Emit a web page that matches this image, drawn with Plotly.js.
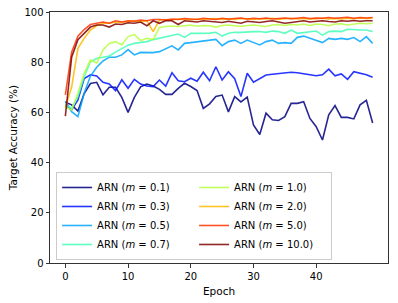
<!DOCTYPE html>
<html>
<head>
<meta charset="utf-8">
<script src="https://cdn.plot.ly/plotly-3.0.1.min.js"></script>
<style>
  html, body { margin: 0; padding: 0; background: #fff; }
  #chart { width: 398px; height: 303px; }
</style>
</head>
<body>
<div id="chart"></div>
<script>
// Epochs 0..49
var epochs = [0,1,2,3,4,5,6,7,8,9,10,11,12,13,14,15,16,17,18,19,20,21,22,23,24,25,26,27,28,29,30,31,32,33,34,35,36,37,38,39,40,41,42,43,44,45,46,47,48,49];

var mLabels = ['0.1', '0.3', '0.5', '0.7', '1.0', '2.0', '5.0', '10.0'];

var accM01 = [64, 63, 60.5, 67.5, 71.5, 72, 67, 70, 70, 66, 60, 66, 70.2, 71.3, 70.5, 69.2, 67.2, 67.2, 69.6, 71.6, 70.3, 68.7, 61.6, 63.4, 66.3, 66.9, 60.2, 66.3, 64.2, 66.1, 55, 51.2, 59.7, 57.1, 56.8, 58.3, 63.6, 63.6, 64.3, 57.6, 54.3, 49, 59, 62.7, 58, 58, 57.4, 63, 64.8, 55.8];
var accM03 = [63, 61, 65, 73.5, 75, 74.5, 72, 71.3, 68.7, 73, 69.6, 73.2, 71.3, 70.5, 70.3, 72.9, 70.5, 75.8, 72.6, 72.2, 73.6, 72.4, 76, 72.6, 78.2, 72.9, 76.2, 73.4, 66.3, 75.6, 72, 73.6, 74.9, 75.2, 75.5, 75.7, 76, 75.8, 75.3, 75, 74.6, 75, 77.2, 74.6, 75.3, 73.2, 76.2, 75.6, 75, 74];
var accM05 = [64.5, 60.3, 58.3, 67.6, 74.5, 78, 80.5, 82, 82, 82.9, 85, 82.9, 83.9, 83.7, 83.8, 84.2, 85.5, 86.5, 84.9, 87.5, 87.8, 88.2, 88.4, 88.8, 89.1, 86.6, 88.2, 88.8, 87.5, 88.8, 87.8, 86.9, 88.2, 88.8, 87.5, 87.8, 87.5, 89.9, 90.4, 89.5, 88.8, 87.8, 89.5, 89.1, 89.5, 89.1, 89.8, 88.2, 90.2, 87.5];
var accM07 = [63, 61.6, 66.3, 74.2, 80.2, 81.5, 82, 82.5, 84, 85.5, 86.8, 87.5, 87.8, 88.2, 89, 89.5, 90.2, 90.8, 91.2, 89.9, 91.5, 91.5, 91.5, 91.6, 91.9, 90.4, 91.5, 91.9, 91.9, 92.2, 92.2, 92.2, 91.9, 92.4, 92.2, 91.5, 92.8, 91.5, 91.8, 92.2, 92.4, 90.8, 92.2, 92.4, 92.2, 93.1, 92.8, 92.8, 92.8, 92.2];
var accM10 = [62, 61, 67.6, 75.6, 80.9, 79.6, 84.9, 87.5, 88.2, 86.9, 90.2, 91, 88.6, 89.5, 89, 93.8, 94.2, 94.4, 94.2, 94.5, 94.8, 94.3, 94.6, 94.5, 94, 94.6, 94.8, 94.5, 94.2, 94.6, 94.8, 94.5, 94.2, 94.8, 95, 94.6, 95, 94.8, 95.2, 94.6, 95.2, 95, 94.5, 95.2, 95.3, 94.8, 95.2, 95.5, 95.3, 95.5];
var accM20 = [62, 70, 85.5, 89.5, 92.8, 94.5, 95.5, 95.5, 96, 95.8, 96.2, 96.5, 96, 96.5, 92.2, 96.8, 97, 96.8, 97.2, 97, 96.8, 97.2, 97, 97.3, 97.4, 97, 97.2, 97, 97.4, 97.2, 97, 97.3, 97.2, 97.5, 97, 97.3, 97.5, 97.2, 97.4, 97.1, 97.3, 97.5, 97.2, 97.4, 97.2, 97.5, 97.3, 97.6, 97.4, 97.5];
var accM50 = [67, 84, 90.4, 93, 95, 95.5, 96, 95.5, 96.5, 96, 96.5, 96.3, 96.8, 96.5, 97, 97, 96.8, 97.2, 97, 97.4, 97.2, 97, 97.5, 97.3, 97, 97.5, 97.2, 97.4, 97.6, 97.2, 97.5, 97.3, 97.6, 97.2, 97.5, 97.6, 97.3, 97.5, 97.8, 97.4, 97.6, 97.5, 97.8, 97.5, 97.6, 97.9, 97.5, 97.8, 97.6, 97.8];
var accM100 = [58.5, 82, 89, 91.5, 94, 94.8, 94.8, 94, 95.2, 95, 95.7, 95.5, 96, 94.5, 96.5, 95.5, 96.5, 96.5, 95, 96.5, 96.3, 96, 96.5, 96.2, 96, 95.8, 96.3, 96, 95.5, 96.3, 96, 95.8, 96.2, 96.5, 96, 95.5, 95.8, 96.3, 96.5, 96, 96.3, 96.5, 96.2, 96, 96.5, 96.3, 96.6, 96.3, 96.5, 96.5];

var series = [accM01, accM03, accM05, accM07, accM10, accM20, accM50, accM100];
var colors = ['#000080', '#0012ff', '#00a4ff', '#41ffb6', '#b6ff41', '#ffb900', '#ff3200', '#800000'];
// matplotlib ncol=2 fills columns first; Plotly rows first -> interleave ranks
var ranks = [1, 3, 5, 7, 2, 4, 6, 8];

var traces = series.map(function (ys, i) {
  return {
    x: epochs,
    y: ys,
    type: 'scatter',
    mode: 'lines',
    name: 'ARN (<i>m</i> = ' + mLabels[i] + ')',
    line: { color: colors[i], width: 1.6 },
    opacity: 0.85,
    legendrank: ranks[i]
  };
});

var axisCommon = {
  showline: true,
  mirror: true,
  linecolor: '#333333',
  linewidth: 1,
  ticks: 'outside',
  ticklen: 3.5,
  tickwidth: 1,
  tickcolor: '#333333',
  showgrid: false,
  zeroline: false,
  tickfont: { family: 'DejaVu Sans', size: 10, color: '#000' }
};

var layout = {
  width: 398,
  height: 303,
  margin: { l: 50, r: 10, t: 12, b: 40 },
  paper_bgcolor: '#ffffff',
  plot_bgcolor: '#ffffff',
  font: { family: 'DejaVu Sans', size: 10, color: '#000' },
  xaxis: Object.assign({}, axisCommon, {
    range: [-2.45, 51.45],
    tickvals: [0, 10, 20, 30, 40],
    title: { text: 'Epoch', font: { family: 'DejaVu Sans', size: 10.5 }, standoff: 7 }
  }),
  yaxis: Object.assign({}, axisCommon, {
    range: [0, 100],
    tickvals: [0, 20, 40, 60, 80, 100],
    title: { text: 'Target Accuracy (%)', font: { family: 'DejaVu Sans', size: 10.5 }, standoff: 4 }
  }),
  showlegend: true,
  legend: {
    orientation: 'h',
    x: 0.018,
    y: 0.012,
    xanchor: 'left',
    yanchor: 'bottom',
    entrywidth: 92,
    entrywidthmode: 'pixels',
    bgcolor: 'rgba(255,255,255,0.8)',
    bordercolor: '#cccccc',
    borderwidth: 1,
    font: { family: 'DejaVu Sans', size: 10, color: '#000' },
    traceorder: 'normal'
  }
};

Plotly.newPlot('chart', traces, layout, { displayModeBar: false, staticPlot: true });
</script>
</body>
</html>
